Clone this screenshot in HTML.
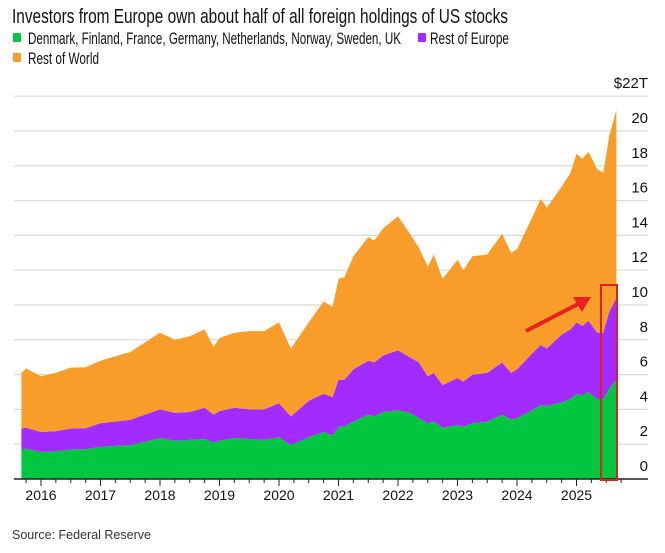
<!DOCTYPE html>
<html><head><meta charset="utf-8">
<style>
html,body{margin:0;padding:0;background:#fff;}
svg{display:block;font-family:"Liberation Sans",sans-serif;}
</style></head>
<body>
<svg id="chart" width="665" height="553" viewBox="0 0 665 553" xmlns="http://www.w3.org/2000/svg">
<text x="12" y="23" font-size="20.5" fill="#111" textLength="496" lengthAdjust="spacingAndGlyphs">Investors from Europe own about half of all foreign holdings of US stocks</text>
<g>
<rect x="13" y="33" width="8" height="9" rx="1" fill="#00c73f"/>
<text x="28" y="44" font-size="16.5" fill="#111" textLength="373" lengthAdjust="spacingAndGlyphs">Denmark, Finland, France, Germany, Netherlands, Norway, Sweden, UK</text>
<rect x="418" y="33" width="8" height="9" rx="1" fill="#a22cff"/>
<text x="430" y="44" font-size="16.5" fill="#111" textLength="79" lengthAdjust="spacingAndGlyphs">Rest of Europe</text>
<rect x="13" y="53" width="8" height="9" rx="1" fill="#f99d2a"/>
<text x="28" y="64" font-size="16.5" fill="#111" textLength="71" lengthAdjust="spacingAndGlyphs">Rest of World</text>
</g>
<g id="grid"></g>
<g id="areas"></g>
<g id="axis"></g>
<g>
<rect x="601" y="285" width="16" height="195" fill="none" stroke="#e0201c" stroke-width="2"/>
<line x1="526" y1="331" x2="580" y2="303" stroke="#e82020" stroke-width="4"/>
<polygon points="591,297 573,297 582,312" fill="#e82020"/>
</g>
<text x="12" y="539" font-size="12.5" fill="#333">Source: Federal Reserve</text>
</svg>
<script>
const dates=[2015.67,2015.75,2016.0,2016.25,2016.5,2016.75,2017.0,2017.5,2018.0,2018.25,2018.5,2018.75,2018.9,2019.0,2019.25,2019.5,2019.75,2020.0,2020.2,2020.5,2020.75,2020.9,2021.0,2021.1,2021.25,2021.5,2021.6,2021.75,2022.0,2022.2,2022.35,2022.5,2022.6,2022.75,2023.0,2023.1,2023.25,2023.5,2023.75,2023.9,2024.0,2024.25,2024.4,2024.5,2024.75,2024.9,2025.0,2025.1,2025.2,2025.35,2025.45,2025.55,2025.67];
const coreEurope=[1.7,1.75,1.55,1.6,1.7,1.72,1.85,1.95,2.35,2.2,2.25,2.3,2.1,2.2,2.35,2.3,2.25,2.4,1.95,2.4,2.7,2.5,3.0,3.0,3.3,3.7,3.6,3.85,3.95,3.8,3.5,3.2,3.3,2.95,3.1,3.0,3.2,3.3,3.7,3.4,3.5,3.95,4.25,4.2,4.4,4.6,4.9,4.8,5.0,4.6,4.6,5.2,5.7];
const restOfEurope=[1.2,1.2,1.15,1.15,1.2,1.2,1.35,1.45,1.65,1.6,1.6,1.8,1.6,1.7,1.75,1.7,1.75,1.95,1.65,2.1,2.2,2.2,2.7,2.7,3.0,3.1,3.1,3.25,3.45,3.2,3.2,2.7,2.8,2.45,2.7,2.6,2.8,2.8,3.0,2.7,2.8,3.25,3.45,3.3,3.9,4.0,4.1,4.0,4.1,3.8,3.8,4.4,4.7];
const restOfWorld=[3.2,3.4,3.2,3.35,3.5,3.5,3.6,3.9,4.4,4.2,4.35,4.5,3.9,4.2,4.3,4.5,4.5,4.65,3.9,4.5,5.3,5.2,5.8,5.9,6.5,7.1,7.0,7.3,7.7,7.1,6.6,6.3,6.8,6.1,6.8,6.4,6.8,6.8,7.4,6.9,6.9,7.8,8.4,8.1,8.5,9.0,9.7,9.6,9.7,9.4,9.2,10.1,10.8];
const yTicks=[0,2,4,6,8,10,12,14,16,18,20,22];
const yearLabels=[2016,2017,2018,2019,2020,2021,2022,2023,2024,2025];

const NS="http://www.w3.org/2000/svg";
const xS=t=>41+(t-2016)*59.5;
const yS=v=>479-v*17.4;
function mk(tag,attrs,parent){const e=document.createElementNS(NS,tag);for(const k in attrs)e.setAttribute(k,attrs[k]);parent.appendChild(e);return e;}
const grid=document.getElementById('grid'),areas=document.getElementById('areas'),axis=document.getElementById('axis');
yTicks.forEach(v=>{
  if(v>0){const l=mk('line',{x1:14,x2:648,y1:yS(v),y2:yS(v),stroke:'#d9d9d9','stroke-width':1.2},grid);
  
  }
  const t=mk('text',{x:648,y:yS(v)-8,'text-anchor':'end','font-size':15,fill:'#111'},grid);
  t.textContent=v===22?'$22T':String(v);
  
  
});
const series=[[coreEurope,'#00c73f','area-core-europe'],[restOfEurope,'#a22cff','area-rest-of-europe'],[restOfWorld,'#f99d2a','area-rest-of-world']];
const base=dates.map(()=>0);
series.forEach(([vals,col,name])=>{
  const top=base.map((b,i)=>b+vals[i]);
  let d='M'+dates.map((t,i)=>xS(t).toFixed(1)+','+yS(top[i]).toFixed(1)).join('L');
  for(let i=dates.length-1;i>=0;i--)d+='L'+xS(dates[i]).toFixed(1)+','+yS(base[i]).toFixed(1);
  const p=mk('path',{d:d+'Z',fill:col},areas);
  
  
  top.forEach((v,i)=>base[i]=v);
});
const bl=mk('line',{x1:14,x2:648,y1:479,y2:479,stroke:'#222','stroke-width':1.5},axis);


for(let q=2015.75;q<=2025.76;q+=0.25){
  const major=Math.abs(q-Math.round(q))<0.01;
  const tk=mk('line',{x1:xS(q),x2:xS(q),y1:479,y2:major?486:483,stroke:'#222','stroke-width':1},axis);
  
  
}
yearLabels.forEach(y=>{
  const t=mk('text',{x:xS(y),y:500,'text-anchor':'middle','font-size':14,fill:'#111'},axis);
  t.textContent=String(y);
  
  
});
</script>
</body></html>
